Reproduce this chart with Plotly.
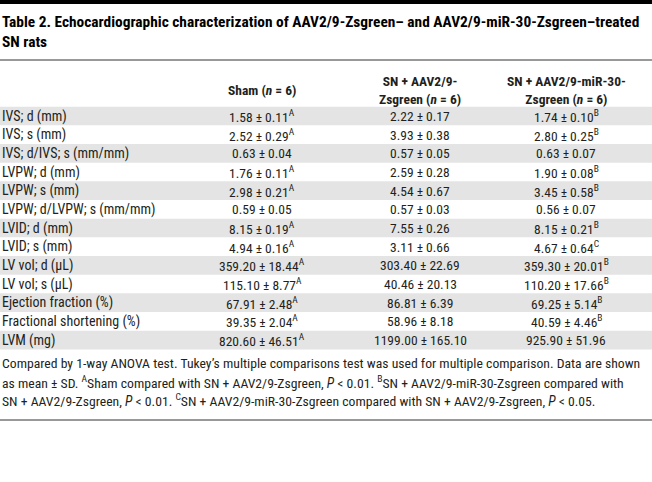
import plotly.graph_objects as go

# ---------------- data ----------------
title_lines = [
    "Table 2. Echocardiographic characterization of AAV2/9-Zsgreen– and AAV2/9-miR-30-Zsgreen–treated",
    "SN rats",
]
col_headers = [
    "Sham (<i>n</i> = 6)",
    "SN + AAV2/9-<br>Zsgreen (<i>n</i> = 6)",
    "SN + AAV2/9-miR-30-<br>Zsgreen (<i>n</i> = 6)",
]
params = [
    "IVS; d (mm)", "IVS; s (mm)", "IVS; d/IVS; s (mm/mm)", "LVPW; d (mm)",
    "LVPW; s (mm)", "LVPW; d/LVPW; s (mm/mm)", "LVID; d (mm)", "LVID; s (mm)",
    "LV vol; d (μL)", "LV vol; s (μL)", "Ejection fraction (%)",
    "Fractional shortening (%)", "LVM (mg)",
]
sham_mean = [1.58, 2.52, 0.63, 1.76, 2.98, 0.59, 8.15, 4.94, 359.20, 115.10, 67.91, 39.35, 820.60]
sham_sd = [0.11, 0.29, 0.04, 0.11, 0.21, 0.05, 0.19, 0.16, 18.44, 8.77, 2.48, 2.04, 46.51]
sham_sup = ["A", "A", "", "A", "A", "", "A", "A", "A", "A", "A", "A", "A"]
zs_mean = [2.22, 3.93, 0.57, 2.59, 4.54, 0.57, 7.55, 3.11, 303.40, 40.46, 86.81, 58.96, 1199.00]
zs_sd = [0.17, 0.38, 0.05, 0.28, 0.67, 0.03, 0.26, 0.66, 22.69, 20.13, 6.39, 8.18, 165.10]
zs_sup = [""] * 13
mir_mean = [1.74, 2.80, 0.63, 1.90, 3.45, 0.56, 8.15, 4.67, 359.30, 110.20, 69.25, 40.59, 925.90]
mir_sd = [0.10, 0.25, 0.07, 0.08, 0.58, 0.07, 0.21, 0.64, 20.01, 17.66, 5.14, 4.46, 51.96]
mir_sup = ["B", "B", "", "B", "B", "", "B", "C", "B", "B", "B", "B", ""]
footnote_lines = [
    "Compared by 1-way ANOVA test. Tukey’s multiple comparisons test was used for multiple comparison. Data are shown",
    "as mean ± SD. <sup>A</sup>Sham compared with SN + AAV2/9-Zsgreen, <i>P</i> &lt; 0.01. <sup>B</sup>SN + AAV2/9-miR-30-Zsgreen compared with",
    "SN + AAV2/9-Zsgreen, <i>P</i> &lt; 0.01. <sup>C</sup>SN + AAV2/9-miR-30-Zsgreen compared with SN + AAV2/9-Zsgreen, <i>P</i> &lt; 0.05.",
]

# ---------------- layout constants ----------------
W, H = 652, 482
FONT = "Roboto Condensed, Roboto"
TXT = "#231f20"
BAND = "#e4e4e4"
col_x = [262, 420, 566]
row0, step = 116, 18.67
param_x = 0

def cell(m, s, sup):
    t = f"{m:.2f} ± {s:.2f}"
    if sup:
        t += f"<sup>{sup}</sup>"
    return t

fig = go.Figure()
shapes = []
ann = []

# top thick bar
shapes.append(dict(type="rect", x0=0, x1=W, y0=0, y1=4, fillcolor="#000", line_width=0, layer="below"))
# title
for i, t in enumerate(title_lines):
    ann.append(dict(x=0, y=22 + i * 20, text=f"<b>{t}</b>", xanchor="left", yanchor="middle",
                    font=dict(size=15.4, color="#000", family=FONT), showarrow=False))
shapes.append(dict(type="line", x0=0, x1=W, y0=60, y1=60, line=dict(color="#333", width=1)))

# headers
for x, h in zip(col_x, col_headers):
    ann.append(dict(x=x, y=90, text=f"<b>{h}</b>", xanchor="center", yanchor="middle", align="center",
                    font=dict(size=13.5, color=TXT, family=FONT), showarrow=False))

# body
columns = [
    [cell(m, s, u) for m, s, u in zip(sham_mean, sham_sd, sham_sup)],
    [cell(m, s, u) for m, s, u in zip(zs_mean, zs_sd, zs_sup)],
    [cell(m, s, u) for m, s, u in zip(mir_mean, mir_sd, mir_sup)],
]
for i, p in enumerate(params):
    y = row0 + i * step
    if i % 2 == 0:
        shapes.append(dict(type="rect", x0=0, x1=W, y0=y - step / 2, y1=y + step / 2,
                           fillcolor=BAND, line_width=0, layer="below"))
    ann.append(dict(x=param_x, y=y, text=p, xanchor="left", yanchor="middle",
                    font=dict(size=14, color=TXT, family=FONT), showarrow=False))
    for x, col in zip(col_x, columns):
        ann.append(dict(x=x, y=y, text=col[i], xanchor="center", yanchor="middle",
                        font=dict(size=13.5, color=TXT, family=FONT), showarrow=False))

# footnote
for i, t in enumerate(footnote_lines):
    ann.append(dict(x=0, y=363 + i * 18.5, text=t, xanchor="left", yanchor="middle",
                    font=dict(size=13.7, color=TXT, family=FONT), showarrow=False))
shapes.append(dict(type="line", x0=0, x1=W, y0=420, y1=420, line=dict(color="#333", width=1)))

fig.update_layout(
    width=W, height=H, margin=dict(l=0, r=0, t=0, b=0),
    paper_bgcolor="white", plot_bgcolor="white",
    xaxis=dict(range=[0, W], visible=False, fixedrange=True),
    yaxis=dict(range=[H, 0], visible=False, fixedrange=True),
    shapes=shapes, annotations=ann, showlegend=False,
)
fig.write_html("out.html", config={"displayModeBar": False},
               post_script="document.body.style.margin='0';document.body.style.overflow='hidden';")
